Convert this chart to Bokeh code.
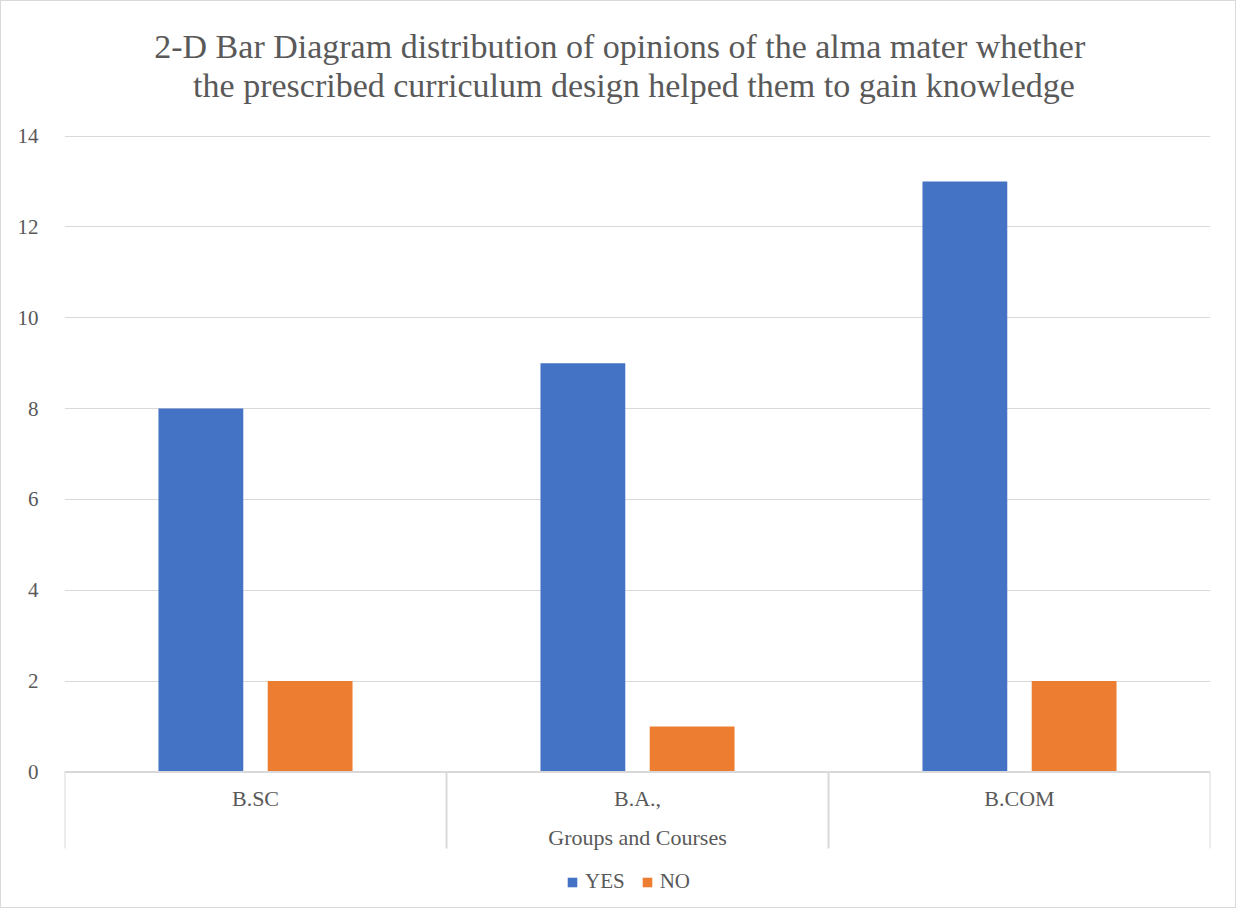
import numpy as np
from bokeh.plotting import figure
from bokeh.models import FixedTicker, Legend, LegendItem, ColumnDataSource, Span
from bokeh.core.properties import value
from bokeh.embed import file_html
from bokeh.resources import INLINE

# ---- data ----
categories = ["B.SC", "B.A.,", "B.COM"]
yes_values = [8, 9, 13]
no_values = [2, 1, 2]
y_ticks = [0, 2, 4, 6, 8, 10, 12, 14]
series_names = ["YES", "NO"]
colors = ["#4472C4", "#ED7D31"]

title_lines = ["2-D Bar Diagram distribution of opinions of the alma mater whether",
               "the prescribed curriculum design helped them to gain knowledge"]
x_title = "Groups and Courses"

# ---- layout / style ----
FONT = "Liberation Serif"
GREY_TXT = "#595959"
GRID = "#d9d9d9"

W, H = 1236, 908
SX, SY = W / 1252, H / 924           # reference-pixel -> figure-pixel
REF_L, REF_R, REF_T, REF_B = 64, 1225, 137, 784
y_max = y_ticks[-1]

left = round(REF_L * SX)
right = W - round(REF_R * SX)
top_px = REF_T * SY
bot_px = REF_B * SY
ppu = (bot_px - top_px) / y_max       # pixels per data unit
y_start = -(H - bot_px) / ppu
y_end = y_max + top_px / ppu

frame_cx_ref = (REF_L + REF_R) / 2

idx = np.arange(len(categories))
bar_w = 0.222
src = ColumnDataSource(dict(
    x_yes=idx + 0.357,
    x_no=idx + 0.643,
    yes=yes_values,
    no=no_values,
))

p = figure(width=W, height=H, x_range=(0, len(categories)), y_range=(y_start, y_end),
           x_axis_location=None, output_backend="svg", toolbar_location=None,
           min_border_left=left, min_border_right=right, min_border_top=0, min_border_bottom=0)
p.outline_line_color = None
p.background_fill_color = "white"
p.border_fill_color = "white"

# y axis
p.yaxis.ticker = FixedTicker(ticks=y_ticks)
p.yaxis.axis_line_color = None
p.yaxis.major_tick_line_color = None
p.yaxis.minor_tick_line_color = None
p.yaxis.major_label_text_font = FONT
p.yaxis.major_label_text_font_size = "21px"
p.yaxis.major_label_text_color = GREY_TXT
p.yaxis.major_label_standoff = 20

p.ygrid.ticker = FixedTicker(ticks=y_ticks)
p.ygrid.grid_line_color = GRID
p.ygrid.grid_line_width = 1
p.xgrid.visible = False

# category axis: baseline, boundary ticks, labels
p.add_layout(Span(location=0, dimension="width", line_color=GRID, line_width=2))
bounds = np.arange(len(categories) + 1)
tick_len = 78 * SY / ppu
p.segment(x0=bounds, y0=0, x1=bounds, y1=-tick_len, line_color=GRID, line_width=2)

r_yes = p.vbar(x="x_yes", top="yes", width=bar_w, source=src, color=colors[0], line_color=None)
r_no = p.vbar(x="x_no", top="no", width=bar_w, source=src, color=colors[1], line_color=None)

p.text(x=idx + 0.5, y=[0] * len(categories), text=categories, y_offset=27 * SY,
       text_align="center", text_baseline="middle",
       text_font=value(FONT), text_font_size="22px", text_color=GREY_TXT)

p.text(x=[len(categories) / 2], y=[0], text=[x_title], y_offset=67 * SY,
       text_align="center", text_baseline="middle",
       text_font=value(FONT), text_font_size="22px", text_color=GREY_TXT)

# title (two centred lines)
title_cx_ref = [626.5, 641.0]
title_cy_ref = [46.0, 85.0]
p.text(x=[len(categories) / 2] * 2, y=[y_max] * 2, text=title_lines,
       x_offset=[(c - frame_cx_ref) * SX for c in title_cx_ref],
       y_offset=[(c - REF_T) * SY for c in title_cy_ref],
       text_align="center", text_baseline="middle",
       text_font=value(FONT), text_font_size="34px", text_color=GREY_TXT)

legend = Legend(items=[LegendItem(label=series_names[0], renderers=[r_yes]),
                       LegendItem(label=series_names[1], renderers=[r_no])],
                orientation="horizontal",
                location=(round(572 * SX) - left, round((924 - 896.5) * SY) - 12),
                glyph_width=12, glyph_height=12,
                label_text_font=FONT, label_text_font_size="21px",
                label_text_color=GREY_TXT, label_standoff=7, spacing=16,
                border_line_color=None, background_fill_alpha=0,
                margin=0, padding=0)
p.add_layout(legend, "center")

p.styles = {"border": "1px solid #d9d9d9"}

open("out.html", "w").write(file_html(p, INLINE))
